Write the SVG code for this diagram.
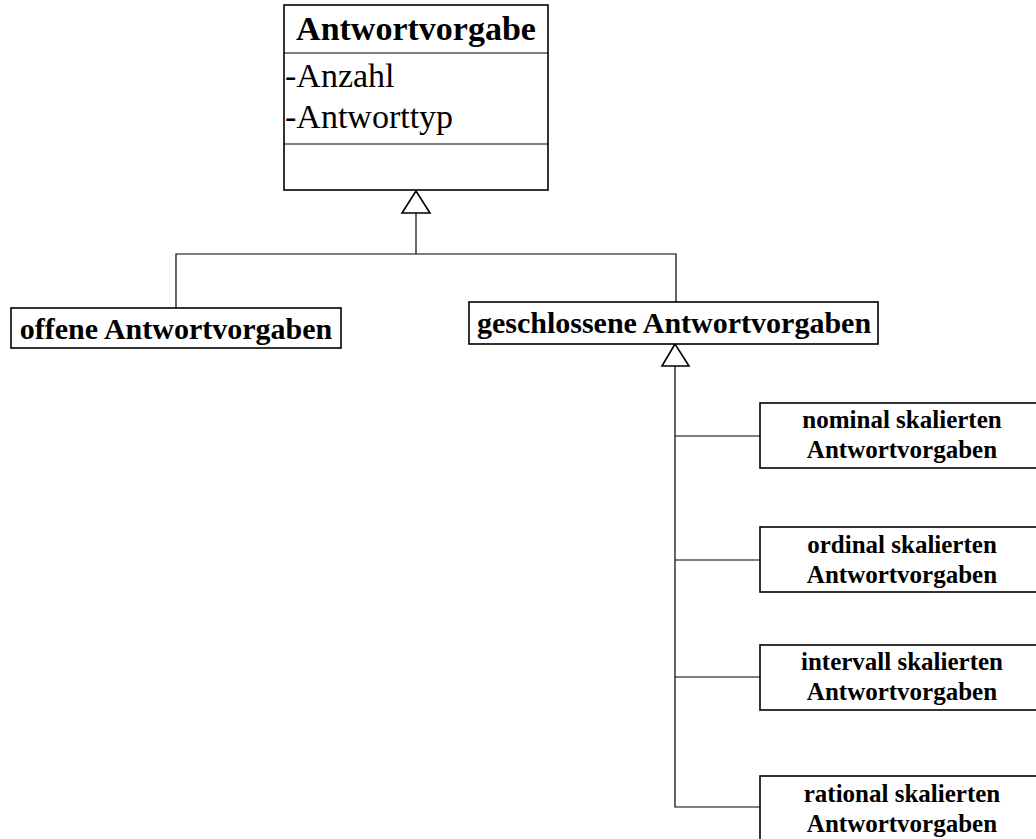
<svg xmlns="http://www.w3.org/2000/svg" width="1036" height="839" viewBox="0 0 1036 839">
<style>
.box{fill:#fff;stroke:#000;stroke-width:1.6}
.ln{fill:none;stroke:#000;stroke-width:1.2}
.tri{fill:#fff;stroke:#000;stroke-width:1.6}
.t{font-family:"Liberation Serif","Times New Roman",serif;fill:#000}
.b{font-weight:bold}
</style>
<rect width="1036" height="839" fill="#fff"/>
<g id="connectors">
<polyline class="ln" points="416,213 416,254"/>
<polyline class="ln" points="176,308 176,254 676,254 676,302"/>
<polygon class="tri" points="416,191 402,213 430,213"/>
<polyline class="ln" points="675,366 675,807 760,807"/>
<line class="ln" x1="675" y1="436" x2="760" y2="436"/>
<line class="ln" x1="675" y1="560" x2="760" y2="560"/>
<line class="ln" x1="675" y1="677" x2="760" y2="677"/>
<polygon class="tri" points="675,344 662,366 689,366"/>
</g>
<g id="antwortvorgabe">
<rect class="box" x="284" y="5" width="264" height="185"/>
<line class="ln" x1="284" y1="53" x2="548" y2="53" stroke-width="1.6"/>
<line class="ln" x1="284" y1="144" x2="548" y2="144" stroke-width="1.6"/>
<text class="t b" x="416" y="40" font-size="34" text-anchor="middle">Antwortvorgabe</text>
<text class="t" x="285" y="87" font-size="34">-Anzahl</text>
<text class="t" x="285" y="128" font-size="34">-Antworttyp</text>
</g>
<g id="offene">
<rect class="box" x="11" y="308" width="330" height="40"/>
<text class="t b" x="176" y="339" font-size="30" text-anchor="middle">offene Antwortvorgaben</text>
</g>
<g id="geschlossene">
<rect class="box" x="469" y="302" width="409" height="42"/>
<text class="t b" x="674" y="333" font-size="30" text-anchor="middle">geschlossene Antwortvorgaben</text>
</g>
<g id="nominal">
<rect class="box" x="760" y="403" width="285" height="65"/>
<text class="t b" x="902" y="428" font-size="25" text-anchor="middle">nominal skalierten</text>
<text class="t b" x="902" y="458" font-size="25" text-anchor="middle">Antwortvorgaben</text>
</g>
<g id="ordinal">
<rect class="box" x="760" y="527" width="285" height="65"/>
<text class="t b" x="902" y="553" font-size="25" text-anchor="middle">ordinal skalierten</text>
<text class="t b" x="902" y="583" font-size="25" text-anchor="middle">Antwortvorgaben</text>
</g>
<g id="intervall">
<rect class="box" x="760" y="645" width="285" height="65"/>
<text class="t b" x="902" y="670" font-size="25" text-anchor="middle">intervall skalierten</text>
<text class="t b" x="902" y="700" font-size="25" text-anchor="middle">Antwortvorgaben</text>
</g>
<g id="rational">
<rect class="box" x="760" y="776" width="285" height="70"/>
<text class="t b" x="902" y="802" font-size="25" text-anchor="middle">rational skalierten</text>
<text class="t b" x="902" y="832" font-size="25" text-anchor="middle">Antwortvorgaben</text>
</g>
</svg>
